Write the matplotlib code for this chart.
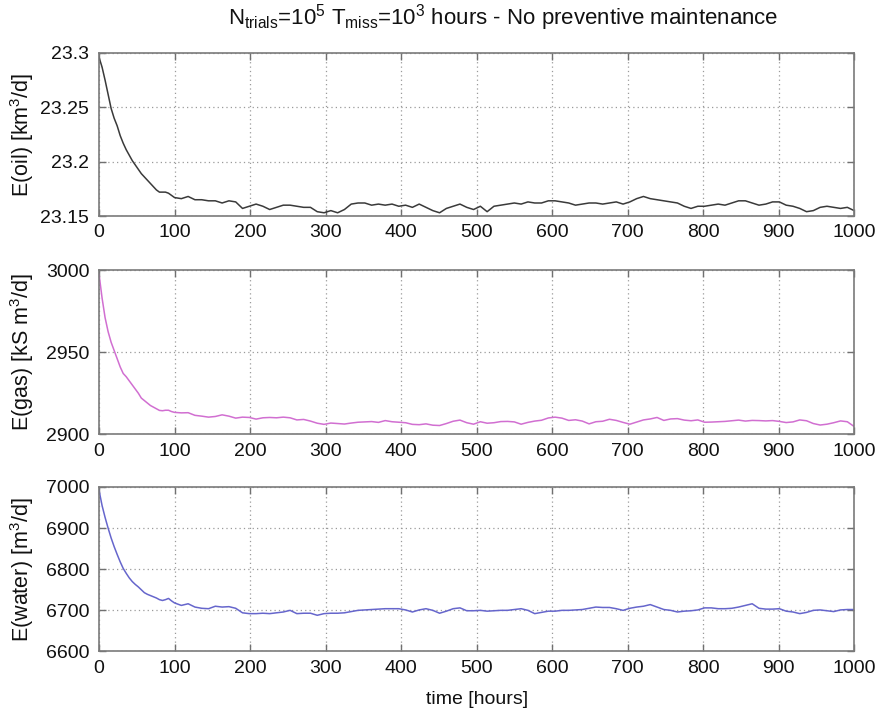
import matplotlib
matplotlib.use("Agg")
import matplotlib.pyplot as plt
from matplotlib.ticker import FuncFormatter
import numpy as np

plt.rcParams['font.family'] = ['Liberation Sans', 'DejaVu Sans']
plt.rcParams['mathtext.fontset'] = 'custom'
plt.rcParams['mathtext.rm'] = 'Liberation Sans'
plt.rcParams['mathtext.it'] = 'Liberation Sans'

# time grid: every 4 h in the transient, every 9 h afterwards
hours_early = np.arange(0, 100, 4)
hours_late = np.arange(100, 1001, 9)
hours = np.concatenate([hours_early, hours_late])

oil_early = [23.296, 23.287, 23.275, 23.262, 23.249, 23.240, 23.233, 23.224, 23.217, 23.211,
             23.206, 23.201, 23.197, 23.193, 23.189, 23.186, 23.183, 23.180, 23.177, 23.174,
             23.172, 23.172, 23.172, 23.171, 23.169]
oil_late = [23.167, 23.166, 23.168, 23.165, 23.165, 23.164, 23.164, 23.162, 23.164, 23.163, 23.157,
            23.159, 23.161, 23.159, 23.156, 23.158, 23.160, 23.160, 23.159, 23.158, 23.158, 23.154,
            23.153, 23.155, 23.153, 23.156, 23.161, 23.162, 23.162, 23.160, 23.161, 23.160, 23.161,
            23.159, 23.160, 23.158, 23.161, 23.158, 23.155, 23.153, 23.157, 23.159, 23.161, 23.158,
            23.156, 23.159, 23.154, 23.159, 23.160, 23.161, 23.162, 23.161, 23.163, 23.162, 23.162,
            23.164, 23.164, 23.163, 23.162, 23.160, 23.161, 23.162, 23.162, 23.161, 23.162, 23.163,
            23.161, 23.163, 23.166, 23.168, 23.166, 23.165, 23.164, 23.163, 23.162, 23.159, 23.157,
            23.159, 23.159, 23.160, 23.161, 23.160, 23.162, 23.164, 23.164, 23.162, 23.160, 23.161,
            23.163, 23.163, 23.160, 23.159, 23.157, 23.154, 23.155, 23.158, 23.159, 23.158, 23.157,
            23.158, 23.155]

gas_early = [2997.5, 2983, 2971, 2962.5, 2956, 2951, 2946, 2941, 2937, 2935,
             2932.5, 2930, 2927.5, 2925, 2922, 2920.5, 2919, 2917.5, 2916.5, 2915.5,
             2914.5, 2914.3, 2914.6, 2914.6, 2913.8]
gas_late = [2913.3, 2913.0, 2913.1, 2911.5, 2911.0, 2910.4, 2910.8, 2911.8, 2911.0, 2909.8, 2910.4,
            2910.2, 2909.2, 2910.0, 2910.2, 2910.0, 2910.4, 2910.0, 2908.7, 2909.0, 2908.0, 2906.7,
            2906.0, 2906.8, 2906.5, 2906.2, 2906.8, 2907.3, 2907.5, 2907.7, 2907.2, 2908.3, 2907.6,
            2907.3, 2907.0, 2906.0, 2905.8, 2906.3, 2905.5, 2905.3, 2906.5, 2907.9, 2908.6, 2907.0,
            2906.1, 2907.6, 2906.7, 2907.0, 2907.7, 2907.8, 2907.5, 2906.1, 2907.2, 2908.0, 2908.5,
            2909.9, 2910.4, 2909.8, 2908.4, 2908.8, 2908.0, 2906.3, 2907.6, 2907.9, 2909.1, 2908.4,
            2907.2, 2906.1, 2907.4, 2908.7, 2909.3, 2910.2, 2908.4, 2909.3, 2909.5, 2908.6, 2908.2,
            2908.7, 2907.3, 2907.4, 2907.6, 2907.8, 2908.2, 2908.6, 2908.0, 2908.4, 2908.3, 2908.1,
            2908.3, 2907.8, 2907.1, 2907.5, 2908.7, 2908.2, 2906.5, 2905.6, 2906.1, 2907.0, 2908.1,
            2907.6, 2904.7]

water_early = [6992, 6955, 6926, 6900, 6876, 6855, 6836, 6818, 6802, 6790,
               6779, 6770, 6763, 6757, 6750, 6743, 6739, 6736, 6733, 6730,
               6726, 6724, 6726, 6729, 6723]
water_late = [6718, 6712, 6716, 6708, 6705, 6704, 6710, 6708, 6709, 6705, 6694,
              6692, 6692, 6693, 6692, 6694, 6696, 6700, 6692, 6693, 6693, 6688,
              6692, 6693, 6693, 6694, 6697, 6700, 6701, 6702, 6703, 6704, 6704,
              6704, 6701, 6696, 6701, 6704, 6700, 6693, 6698, 6704, 6706, 6699,
              6699, 6700, 6698, 6699, 6700, 6700, 6702, 6704, 6700, 6692, 6695,
              6698, 6698, 6700, 6700, 6701, 6702, 6705, 6708, 6707, 6707, 6704,
              6700, 6705, 6708, 6710, 6714, 6708, 6702, 6700, 6696, 6698, 6699,
              6701, 6706, 6706, 6704, 6704, 6705, 6708, 6712, 6716, 6705, 6703,
              6703, 6704, 6698, 6696, 6692, 6695, 6700, 6701, 6699, 6697, 6701,
              6702, 6702]

oil = oil_early + oil_late
gas = gas_early + gas_late
water = water_early + water_late

x_ticks = list(range(0, 1001, 100))
panels = [
    (oil, '#3a3a3a', 'E(oil) [km$^3$/d]', (23.15, 23.3), [23.15, 23.2, 23.25, 23.3]),
    (gas, '#d16fd1', 'E(gas) [kS m$^3$/d]', (2900, 3000), [2900, 2950, 3000]),
    (water, '#6666cc', 'E(water) [m$^3$/d]', (6600, 7000), [6600, 6700, 6800, 6900, 7000]),
]

fig = plt.figure(figsize=(8.78, 7.13), dpi=100)
rects = [
    [0.1128, 0.697, 0.86, 0.2287],
    [0.1128, 0.391, 0.86, 0.2303],
    [0.1128, 0.0863, 0.86, 0.2307],
]

for (vals, color, ylabel, ylim, yticks), rect in zip(panels, rects):
    ax = fig.add_axes(rect)
    ax.plot(hours, vals, color=color, linewidth=1.1)
    ax.set_xlim(0, 1000)
    ax.set_ylim(*ylim)
    ax.set_xticks(x_ticks)
    ax.set_yticks(yticks)
    ax.yaxis.set_major_formatter(FuncFormatter(lambda v, p: '%g' % v))
    ax.grid(True, linestyle=(0, (1, 2.5)), color='#9a9a9a', linewidth=0.9)
    ax.tick_params(direction='in', top=True, right=True, length=5, width=1,
                   color='#707070', labelsize=14, labelcolor='#111111')
    ax.tick_params(axis='x', pad=6)
    ax.tick_params(axis='y', pad=7)
    for sp in ax.spines.values():
        sp.set_color('#7a7a7a')
        sp.set_linewidth(1.2)
    ymid = rect[1] + rect[3] / 2
    fig.text(22 / 878, ymid, ylabel, rotation=90, ha='center', va='center',
             fontsize=15.5, color='#111111')

ax.set_xlabel('time [hours]', fontsize=14, labelpad=10, color='#111111')

fig.text(0.573, 1 - 18 / 713,
         r'N$_{\mathrm{trials}}$=10$^5$ T$_{\mathrm{miss}}$=10$^3$ hours - No preventive maintenance',
         ha='center', va='center', fontsize=16, color='#111111')

fig.savefig('out.png', dpi=100)
